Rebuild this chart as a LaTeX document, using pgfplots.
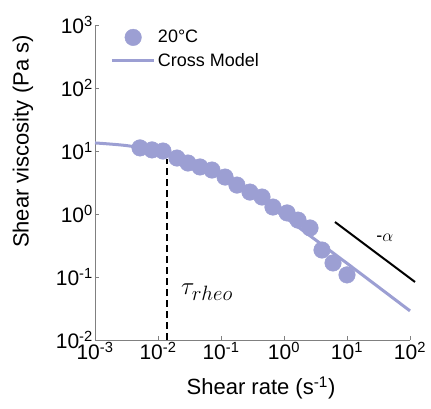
\documentclass[border=0pt]{standalone}
\usepackage{fontspec}
\setmainfont{Liberation Sans}
\usepackage{pgfplots}
\pgfplotsset{compat=1.18}
\definecolor{lav}{HTML}{9C9FD3}
\definecolor{axgray}{HTML}{808080}
\pgfplotsset{
 legdot/.style={legend image code/.code={\draw[##1] plot coordinates {(0.75cm,0cm)};}},
 legline/.style={legend image code/.code={\draw[##1] (0cm,0cm) -- (1.5cm,0cm);}},
}
\begin{document}
\begin{tikzpicture}
\begin{axis}[name=ax, scale only axis, width=315pt, height=315pt,
 xmode=log, ymode=log, xmin=1e-3, xmax=1e2, ymin=1e-2, ymax=1e3,
 axis x line=bottom, axis y line=left,
 axis line style={-, axgray, line width=0.8pt},
 tick align=inside, major tick length=4pt,
 tick style={axgray, line width=0.8pt},
 xminorticks=false, yminorticks=false,
 xtick={1e-3,1e-2,1e-1,1,1e1,1e2},
 xticklabels={10\textsuperscript{-3},10\textsuperscript{-2},10\textsuperscript{-1},10\textsuperscript{0},10\textsuperscript{1},10\textsuperscript{2}},
 ytick={1e-2,1e-1,1,1e1,1e2,1e3},
 yticklabels={10\textsuperscript{-2},10\textsuperscript{-1},10\textsuperscript{0},10\textsuperscript{1},10\textsuperscript{2},10\textsuperscript{3}},
 ticklabel style={font=\fontsize{21}{24}\selectfont, text=black},
 xticklabel style={inner sep=2pt},
 yticklabel style={inner sep=2pt},
 xlabel={Shear rate (s\textsuperscript{-1})},
 ylabel={Shear viscosity (Pa s)},
 label style={font=\fontsize{22}{26}\selectfont},
 xlabel style={at={(axis description cs:0.527,-0.152)}, anchor=center},
 ylabel style={at={(axis description cs:-0.229,0.63)}, anchor=center},
 clip=false,
 legend style={draw=none, fill=none, at={(axis description cs:0.048,0.99)}, anchor=north west,
   font=\fontsize{18}{20}\selectfont, row sep=5pt, inner sep=0pt},
 legend cell align=left,
]
\addplot[only marks, mark=*, mark size=8.3pt, color=lav, mark options={draw=none, fill=lav}, legdot]
 coordinates {
 (0.00518,11.2) (0.00803,10.4) (0.0120,10.0) (0.0200,7.74) (0.0299,6.45)
 (0.0464,5.58) (0.0719,4.99) (0.116,3.86) (0.179,2.88) (0.288,2.23)
 (0.448,1.86) (0.668,1.29) (1.12,1.04) (1.67,0.80) (2.59,0.60)
 (4.01,0.268) (6.0,0.167) (10,0.108)
 };
\addlegendentry{20°C}
\addplot[color=lav, line width=3pt, smooth, legline]
 coordinates {
 (0.001,13.43) (0.00316,12.19) (0.01,9.96) (0.0316,6.93) (0.1,4.01)
 (0.316,2.0) (1,0.908) (3.16,0.389) (10,0.165) (31.6,0.0693) (100,0.029)
 };
\addlegendentry{Cross Model}
\addplot[black, line width=2pt, forget plot] coordinates {(6.45,0.746) (120,0.0834)};
\addplot[black, line width=1.5pt, dash pattern=on 7pt off 4pt, forget plot] coordinates {(0.0139,0.01) (0.0139,7.5)};
\node at (axis cs:0.06,0.058) {\fontsize{29}{29}\selectfont$\tau_{rheo}$};
\node at (axis cs:40,0.42) {\fontsize{18}{18}\selectfont -$\alpha$};
\end{axis}
\pgfresetboundingbox
\path[use as bounding box] (ax.south west) ++(-95pt,-68pt) rectangle ++(431pt,408pt);
\end{tikzpicture}
\end{document}
